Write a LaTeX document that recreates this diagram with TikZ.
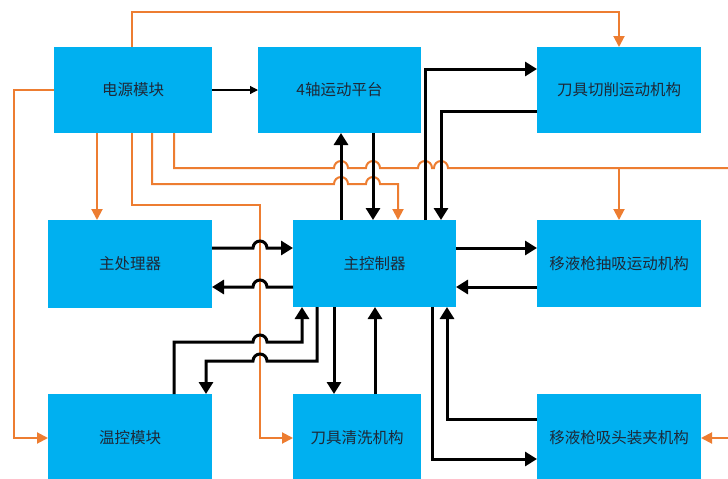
\documentclass[tikz,border=0pt]{standalone}
\usepackage{fontspec}
\newfontfamily\cjkfont{Noto Sans CJK SC}
\usetikzlibrary{arrows.meta}
\definecolor{boxblue}{RGB}{0,176,240}
\definecolor{pwrorange}{RGB}{237,125,49}
\definecolor{txtdark}{RGB}{30,40,55}
\begin{document}
\begin{tikzpicture}[x=1pt,y=-1pt,
  box/.style={rectangle, fill=boxblue, draw=none, anchor=north west, minimum height=87pt,
    inner sep=0pt, outer sep=0pt, font=\cjkfont\fontsize{15.5}{18}\selectfont, text=txtdark},
  blk/.style={line width=3pt, black, -{Triangle[width=14pt,length=12pt]}},
  org/.style={line width=2pt, pwrorange, -{Triangle[width=11pt,length=11pt]}},
  orgl/.style={line width=2pt, pwrorange},
  thinarr/.style={line width=1.2pt, black, -{Triangle[width=8pt,length=8pt]}},
]
\useasboundingbox (0,0) rectangle (728,479);
\clip (0,0) rectangle (728,479);
\fill[white] (0,0) rectangle (728,479);

% boxes
\node[box, minimum width=158pt, minimum height=86pt] (pwr)   at (54,47)  {电源模块};
\node[box, minimum width=163pt, minimum height=86pt] (plat)  at (258,47) {4轴运动平台};
\node[box, minimum width=164pt, minimum height=86pt] (cut)   at (537,47) {刀具切削运动机构};
\node[box, minimum width=164pt, minimum height=88pt] (proc)  at (48,220)  {主处理器};
\node[box, minimum width=163pt] (ctrl)  at (293,220) {主控制器};
\node[box, minimum width=164pt] (suck)  at (537,220) {移液枪抽吸运动机构};
\node[box, minimum width=164pt, minimum height=88pt] (temp)  at (48,394)  {温控模块};
\node[box, minimum width=128pt, minimum height=88pt] (wash)  at (293,394) {刀具清洗机构};
\node[box, minimum width=164pt, minimum height=88pt] (clamp) at (537,394) {移液枪吸头装夹机构};

% orange power lines
\draw[org] (pwr.north -| 132,0) -- (132,12) -| (cut.north);
\draw[org] (pwr.west) -| (14,438) -- (temp.west);
\draw[org] (pwr.south -| 97,0) -- (proc.north -| 97,0);
\draw[org] (pwr.south -| 132,0) -- (132,205) -- (260,205) -- (260,438) -- (wash.west);
\draw[org] (pwr.south -| 152,0) -- (152,184) -- (334,184)
  arc[start angle=180,end angle=360,radius=7] -- (366,184)
  arc[start angle=180,end angle=360,radius=7] -- (398,184) -- (ctrl.north -| 398,0);
\draw[orgl] (pwr.south -| 174,0) -- (174,168) -- (334,168)
  arc[start angle=180,end angle=360,radius=7] -- (366,168)
  arc[start angle=180,end angle=360,radius=7] -- (418,168)
  arc[start angle=180,end angle=360,radius=7] -- (434,168)
  arc[start angle=180,end angle=360,radius=7] -- (745,168) coordinate (rt);
\draw[org] (619,168) -- (suck.north);
\draw[org] (rt) -- (745,438) -- (clamp.east);

% black control lines
\draw[thinarr] (pwr.east) -- (plat.west);
\draw[blk] (ctrl.north -| 341,0) -- (plat.south -| 341,0);
\draw[blk] (plat.south -| 373,0) -- (ctrl.north -| 373,0);
\draw[blk] (ctrl.north -| 425,0) -- (425,69) -- (cut.west |- 0,69);
\draw[blk] (cut.west |- 0,111) -- (441,111) -- (ctrl.north -| 441,0);
\draw[blk] (proc.east |- 0,248) -- (253,248)
  arc[start angle=180,end angle=360,radius=7] -- (ctrl.west |- 0,248);
\draw[blk] (ctrl.west |- 0,287) -- (267,287)
  arc[start angle=0,end angle=-180,radius=7] -- (proc.east |- 0,287);
\draw[blk] (ctrl.east |- 0,248) -- (suck.west |- 0,248);
\draw[blk] (suck.west |- 0,287) -- (ctrl.east |- 0,287);
\draw[blk] (temp.north -| 174,0) -- (174,342) -- (253,342)
  arc[start angle=180,end angle=360,radius=7] -- (302,342) -- (ctrl.south -| 302,0);
\draw[blk] (ctrl.south -| 317,0) -- (317,361) -- (267,361)
  arc[start angle=0,end angle=-180,radius=7] -- (206,361) -- (temp.north -| 206,0);
\draw[blk] (ctrl.south -| 334,0) -- (wash.north -| 334,0);
\draw[blk] (wash.north -| 375,0) -- (ctrl.south -| 375,0);
\draw[blk] (ctrl.south -| 432,0) -- (432,459) -- (clamp.west |- 0,459);
\draw[blk] (clamp.west |- 0,419) -- (447,419) -- (ctrl.south -| 447,0);
\end{tikzpicture}
\end{document}
